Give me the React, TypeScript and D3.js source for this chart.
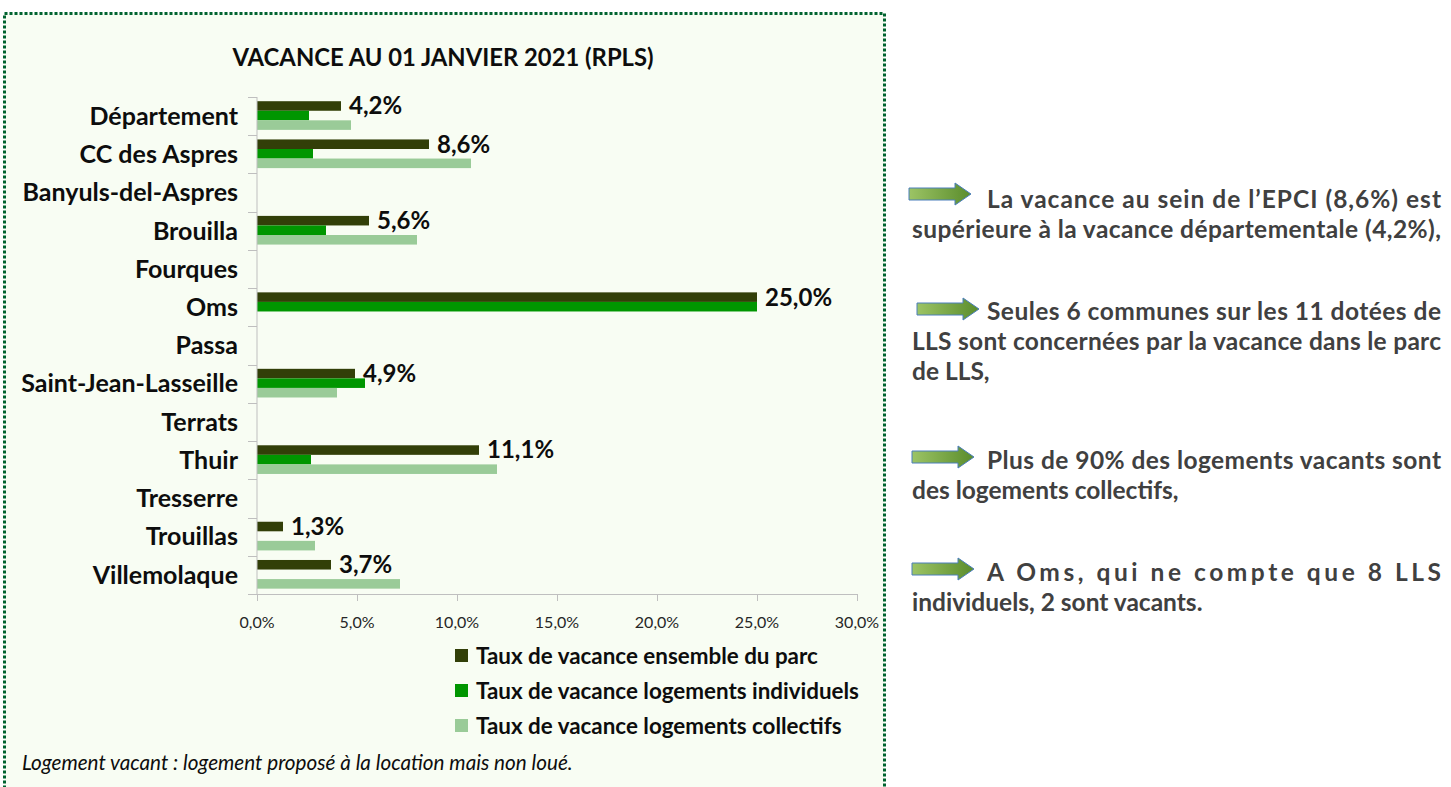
import React, { useRef, useEffect } from "react";
import * as d3 from "d3";

// Chart data
const categories = [
  "Département",
  "CC des Aspres",
  "Banyuls-del-Aspres",
  "Brouilla",
  "Fourques",
  "Oms",
  "Passa",
  "Saint-Jean-Lasseille",
  "Terrats",
  "Thuir",
  "Tresserre",
  "Trouillas",
  "Villemolaque",
];
const seriesNames = [
  "Taux de vacance ensemble du parc",
  "Taux de vacance logements individuels",
  "Taux de vacance logements collectifs",
];
const ensemble = [4.2, 8.6, null, 5.6, null, 25.0, null, 4.9, null, 11.1, null, 1.3, 3.7];
const individuels = [2.6, 2.8, null, 3.45, null, 25.0, null, 5.4, null, 2.7, null, null, null];
const collectifs = [4.7, 10.7, null, 8.0, null, null, null, 4.0, null, 12.0, null, 2.9, 7.15];
const xTicks = [0, 5, 10, 15, 20, 25, 30];

const title = "VACANCE AU 01 JANVIER 2021 (RPLS)";
const footnote = "Logement vacant : logement proposé à la location mais non loué.";

// Commentary on the right: [text, justified]
const paragraphs = [
  [
    ["La vacance au sein de l’EPCI (8,6%) est", true],
    ["supérieure à la vacance départementale (4,2%),", true],
  ],
  [
    ["Seules 6 communes sur les 11 dotées de", true],
    ["LLS sont concernées par la vacance dans le parc", true],
    ["de LLS,", false],
  ],
  [
    ["Plus de 90% des logements vacants sont", true],
    ["des logements collectifs,", false],
  ],
  [
    ["A Oms, qui ne compte que 8 LLS", true],
    ["individuels, 2 sont vacants.", false],
  ],
];

const FONT = "Lato, 'Open Sans', sans-serif";

const App = () => {
  const svgRef = useRef(null);

  useEffect(() => {
    const svg = d3.select(svgRef.current);
    svg.selectAll("*").remove();

    const W = 1451;
    const H = 787;
    svg.attr("width", W).attr("height", H);

    // panel background + dotted border
    svg
      .append("rect")
      .attr("x", 4.5)
      .attr("y", 13.5)
      .attr("width", 880)
      .attr("height", 800)
      .attr("fill", "#f8fdf3")
      .attr("stroke", "#00632f")
      .attr("stroke-width", 3)
      .attr("stroke-dasharray", "3 2");

    const colors = ["#323f08", "#009600", "#9acb98"];
    const series = [ensemble, individuels, collectifs];

    const x = d3.scaleLinear().domain([0, 30]).range([257, 857]);
    const y = d3.scaleBand().domain(categories).range([97, 594]);
    const bw = y.bandwidth();
    const sub = d3
      .scaleBand()
      .domain(d3.range(3))
      .range([bw * 0.11, bw * 0.86]);

    // title
    svg
      .append("text")
      .attr("x", 443)
      .attr("y", 66)
      .attr("text-anchor", "middle")
      .style("font-family", FONT)
      .style("font-weight", 700)
      .style("font-size", "23.8px")
      .attr("fill", "#0d0d0d")
      .text(title);

    // bars
    series.forEach((vals, si) => {
      svg
        .append("g")
        .attr("fill", colors[si])
        .selectAll("rect")
        .data(vals.map((v, i) => ({ v, c: categories[i] })).filter((d) => d.v != null))
        .enter()
        .append("rect")
        .attr("x", x(0))
        .attr("y", (d) => y(d.c) + sub(si))
        .attr("width", (d) => x(d.v) - x(0))
        .attr("height", sub.bandwidth());
    });

    // data labels on the "ensemble" series
    svg
      .append("g")
      .selectAll("text")
      .data(ensemble.map((v, i) => ({ v, c: categories[i] })).filter((d) => d.v != null))
      .enter()
      .append("text")
      .attr("x", (d) => x(d.v) + 8)
      .attr("y", (d) => y(d.c) + sub(0) + sub.bandwidth() / 2)
      .attr("dy", "0.35em")
      .style("font-family", FONT)
      .style("font-weight", 700)
      .style("font-size", "24px")
      .attr("fill", "#0d0d0d")
      .text((d) => d.v.toFixed(1).replace(".", ",") + "%");

    // category axis
    const axisColor = "#bfbfbf";
    svg
      .append("line")
      .attr("x1", x(0))
      .attr("x2", x(0))
      .attr("y1", 97)
      .attr("y2", 594)
      .attr("stroke", axisColor);
    svg
      .append("g")
      .selectAll("line")
      .data(d3.range(categories.length + 1))
      .enter()
      .append("line")
      .attr("x1", x(0) - 9)
      .attr("x2", x(0))
      .attr("y1", (i) => Math.round(97 + i * bw) + 0.5)
      .attr("y2", (i) => Math.round(97 + i * bw) + 0.5)
      .attr("stroke", axisColor);
    svg
      .append("g")
      .selectAll("text")
      .data(categories)
      .enter()
      .append("text")
      .attr("x", 238)
      .attr("y", (d) => y(d) + bw / 2)
      .attr("dy", "0.35em")
      .attr("text-anchor", "end")
      .style("font-family", FONT)
      .style("font-weight", 700)
      .style("font-size", "25px")
      .attr("fill", "#0d0d0d")
      .text((d) => d);

    // value axis
    svg
      .append("line")
      .attr("x1", x(0))
      .attr("x2", x(30))
      .attr("y1", 594.5)
      .attr("y2", 594.5)
      .attr("stroke", axisColor);
    const xt = svg.append("g");
    xt.selectAll("line")
      .data(xTicks)
      .enter()
      .append("line")
      .attr("x1", (d) => Math.round(x(d)) + 0.5)
      .attr("x2", (d) => Math.round(x(d)) + 0.5)
      .attr("y1", 594)
      .attr("y2", 601)
      .attr("stroke", axisColor);
    xt.selectAll("text")
      .data(xTicks)
      .enter()
      .append("text")
      .attr("x", (d) => x(d))
      .attr("y", 628)
      .attr("text-anchor", "middle")
      .style("font-family", FONT)
      .style("font-size", "16px")
      .attr("fill", "#262626")
      .text((d) => d.toFixed(1).replace(".", ",") + "%");

    // legend
    const legend = svg
      .selectAll(".legend")
      .data(seriesNames)
      .enter()
      .append("g")
      .attr("class", "legend")
      .attr("transform", (d, i) => `translate(455, ${656 + i * 35})`);
    legend
      .append("rect")
      .attr("y", -7)
      .attr("width", 13)
      .attr("height", 13)
      .attr("fill", (d, i) => colors[i]);
    legend
      .append("text")
      .attr("x", 21)
      .attr("dy", "0.35em")
      .style("font-family", FONT)
      .style("font-weight", 700)
      .style("font-size", "22.4px")
      .attr("fill", "#0d0d0d")
      .text((d) => d);

    // footnote
    svg
      .append("text")
      .attr("x", 22)
      .attr("y", 770)
      .style("font-family", FONT)
      .style("font-style", "italic")
      .style("font-size", "20.7px")
      .attr("fill", "#0d0d0d")
      .text(footnote);

    // arrows gradient
    const defs = svg.append("defs");
    const grad = defs
      .append("linearGradient")
      .attr("id", "arrowGrad")
      .attr("x1", "0")
      .attr("x2", "1")
      .attr("y1", "0")
      .attr("y2", "0");
    grad.append("stop").attr("offset", "0").attr("stop-color", "#9cc465");
    grad.append("stop").attr("offset", "1").attr("stop-color", "#5a8c2c");

    // right commentary
    const paraTop = [208, 320, 469, 581];
    const arrowX = [909, 917, 912, 912];
    const arrowCy = [194, 309, 457, 569];
    const lineGap = 30;
    paragraphs.forEach((lines, pi) => {
      const ax = arrowX[pi];
      const cy = arrowCy[pi];
      svg
        .append("path")
        .attr(
          "d",
          `M${ax},${cy - 6} H${ax + 46} V${cy - 11} L${ax + 62},${cy} L${ax + 46},${cy + 11} V${cy + 6} H${ax} Z`
        )
        .attr("fill", "url(#arrowGrad)")
        .attr("stroke", "#4a7ebb")
        .attr("stroke-width", 1);
      lines.forEach(([txt, just], li) => {
        const x0 = li === 0 ? 987 : 912;
        const t = svg
          .append("text")
          .attr("x", x0)
          .attr("y", paraTop[pi] + li * lineGap)
          .style("font-family", FONT)
          .style("font-weight", 700)
          .style("font-size", "24.5px")
          .attr("fill", "#404040")
          .text(txt);
        if (just) {
          t.attr("textLength", 1441 - x0).attr("lengthAdjust", "spacing");
        }
      });
    });
  }, []);

  return (
    <div style={{ position: "absolute", left: 0, top: 0 }}>
      <svg ref={svgRef} style={{ display: "block" }}></svg>
    </div>
  );
};

export default App;
